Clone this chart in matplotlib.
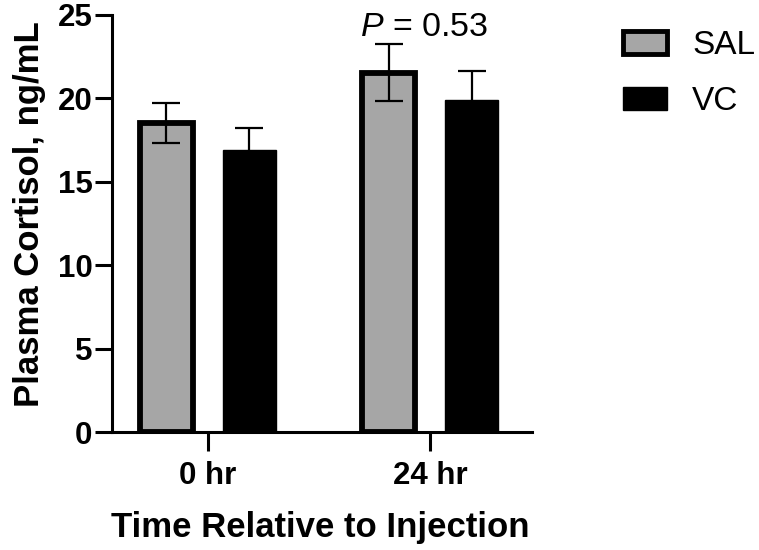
import matplotlib
matplotlib.use("Agg")
import matplotlib.pyplot as plt
import numpy as np
from matplotlib.patches import Patch

plt.rcParams['font.family'] = ['Liberation Sans', 'DejaVu Sans']
plt.rcParams['mathtext.fontset'] = 'custom'
plt.rcParams['mathtext.it'] = 'Liberation Sans:italic'
plt.rcParams['mathtext.rm'] = 'Liberation Sans'

categories = ["0 hr", "24 hr"]
series = ["SAL", "VC"]
sal_mean = [18.5, 21.55]
sal_sem = [1.2, 1.7]
vc_mean = [16.9, 19.9]
vc_sem = [1.3, 1.75]
yticks = [0, 5, 10, 15, 20, 25]

fig = plt.figure(figsize=(7.59, 5.50), dpi=100)
ax = fig.add_axes([112/759, 1-432/550, (532-112)/759, (432-15)/550])

x = np.arange(len(categories))
w = 0.235
off = 0.187
ax.bar(x - off, sal_mean, w, color='#a6a6a6', edgecolor='black', linewidth=4.2, zorder=2)
ax.bar(x + off, vc_mean, w, color='black', edgecolor='black', linewidth=1, zorder=2)
ax.errorbar(x - off, sal_mean, yerr=sal_sem, fmt='none', ecolor='black', elinewidth=1.6,
            capsize=10, capthick=1.6, zorder=3)
ax.errorbar(x + off, vc_mean, yerr=vc_sem, fmt='none', ecolor='black', elinewidth=1.6,
            capsize=10, capthick=1.6, zorder=3)

ax.set_xlim(-0.432, 1.459)
ax.set_ylim(0, 25)
ax.set_yticks(yticks)
ax.set_xticks(x)
ax.set_xticklabels(categories, fontsize=22.5, fontweight='bold')
ax.set_yticklabels([str(t) for t in yticks], fontsize=22.5, fontweight='bold')
ax.tick_params(axis='y', length=12, width=2.2, pad=2)
ax.tick_params(axis='x', length=14, width=2.2, pad=7)
for s in ['top', 'right']:
    ax.spines[s].set_visible(False)
for s in ['left', 'bottom']:
    ax.spines[s].set_linewidth(2.2)

ax.text(0.973, 23.74, r'$\it{P}$ = 0.53', fontsize=24.5, ha='center', va='baseline')

fig.text(30/759, 1-214/550, 'Plasma Cortisol, ng/mL', rotation=90, fontsize=25,
         fontweight='bold', ha='center', va='center')
fig.text(320/759, 1-527/550, 'Time Relative to Injection', fontsize=25,
         fontweight='bold', ha='center', va='center')

handles = [Patch(facecolor='#a6a6a6', edgecolor='black', linewidth=3.5),
           Patch(facecolor='black', edgecolor='black', linewidth=1)]
fig.legend(handles, series, loc='upper left', bbox_to_anchor=(623/759, 1-30/550),
           frameon=False, fontsize=24, handlelength=1.33, handleheight=0.67,
           handletextpad=0.75, labelspacing=0.76, borderaxespad=0, borderpad=0)

fig.savefig('out.png', dpi=100)
